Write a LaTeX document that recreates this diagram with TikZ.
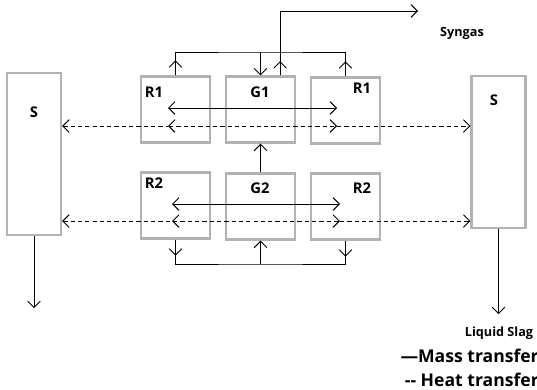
\documentclass[tikz,border=0pt]{standalone}
\usepackage{fontspec}
\setmainfont{Open Sans}
\usetikzlibrary{arrows.meta}
\tikzset{
  box/.style={draw=gray!60, line width=1.7pt, minimum width=1.725cm, minimum height=1.65cm, inner sep=0pt},
  sbox/.style={box, minimum width=1.35cm},
  lbl/.style={font=\bfseries\fontsize{10.5}{12}\selectfont, inner sep=1pt},
  note/.style={font=\bfseries\fontsize{9}{10}\selectfont, inner sep=1pt},
  legend/.style={font=\bfseries\fontsize{12.5}{14}\selectfont, inner sep=0pt, anchor=east},
  mass/.style={line width=0.65pt},
  heat/.style={line width=0.65pt, dash pattern=on 3pt off 2.2pt}
}
\begin{document}
\begin{tikzpicture}[x=0.025cm,y=-0.025cm,>={Straight Barb[length=4.5pt,width=9pt]}]
\useasboundingbox (0,0) rectangle (537,389);
% slag boxes
\node[sbox, minimum height=4.05cm] (sl) at (34,154) {};
\node[sbox, minimum height=3.8cm] (sr) at (498.5,152) {};
\node[lbl] (sllab) at (34,112) {S};
\node[lbl] (srlab) at (494,100) {S};
% upper row
\node[box] (r1a) at (175.5,109.5) {};
\node[box] (g1) at (260.5,109.5) {};
\node[box] (r1b) at (345.5,110.5) {};
\node[lbl] (r1alab) at (154,92) {R1};
\node[lbl] (g1lab) at (260,92) {G1};
\node[lbl] (r1blab) at (362,88) {R1};
% lower row
\node[box] (r2a) at (175.5,205.5) {};
\node[box] (g2) at (260.5,206.5) {};
\node[box] (r2b) at (345.5,206.5) {};
\node[lbl] (r2alab) at (154,183) {R2};
\node[lbl] (g2lab) at (260,188) {G2};
\node[lbl] (r2blab) at (362,188) {R2};
% texts
\node[note] (syngas) at (462,33) {Syngas};
\node[note] (slag) at (499,333) {Liquid Slag};
\node[legend] (lmass) at (539,356) {—Mass transfer};
\node[legend] (lheat) at (539,380) {-{}- Heat transfer};
% top manifold
\coordinate (mt) at (260.5,52);
\coordinate (syn) at (418,11);
\draw[mass] (r1a.north) |- (mt) -| (r1b.north);
\draw[mass,->] (r1a.north) -- ++(0,-15);
\draw[mass,->] (r1b.north) -- ++(0,-15);
\draw[mass,->] (mt) -- (g1.north);
\draw[mass,->] ([xshift=0.49cm]g1.north) |- (syn);
\draw[mass,->] ([xshift=0.49cm]g1.north) -- ++(0,-14);
\draw[mass,->] (g2.north) -- (g1.south);
% bottom manifold
\coordinate (mb) at (260.5,264);
\draw[mass] (r2a.south) |- (mb) -| (r2b.south);
\draw[mass,->] (r2a.south) -- ++(0,16);
\draw[mass,->] (r2b.south) -- ++(0,16);
\draw[mass,->] (mb) -- (g2.south);
% slag outlets
\draw[mass,->] (sl.south) -- ++(0,72);
\draw[mass,->] (sr.south) -- ++(0,85);
% transfer inside rows
\coordinate (m1l) at (168,108);
\coordinate (m1r) at (337,108);
\coordinate (m2l) at (172,204);
\coordinate (m2r) at (340,204);
\draw[mass,<->] (m1l) -- (m1r);
\draw[mass,<->] (m2l) -- (m2r);
\coordinate (h1l) at (168,126);
\coordinate (h1r) at (337,126);
\coordinate (h2l) at (172,221);
\coordinate (h2r) at (340,221);
\draw[heat,<-] (sl.east |- h1l) -- (h1l);
\draw[heat,<->] (h1l) -- (h1r);
\draw[heat,->] (h1r) -- (sr.west |- h1r);
\draw[heat,<-] (sl.east |- h2l) -- (h2l);
\draw[heat,<->] (h2l) -- (h2r);
\draw[heat,->] (h2r) -- (sr.west |- h2r);
\end{tikzpicture}
\end{document}
